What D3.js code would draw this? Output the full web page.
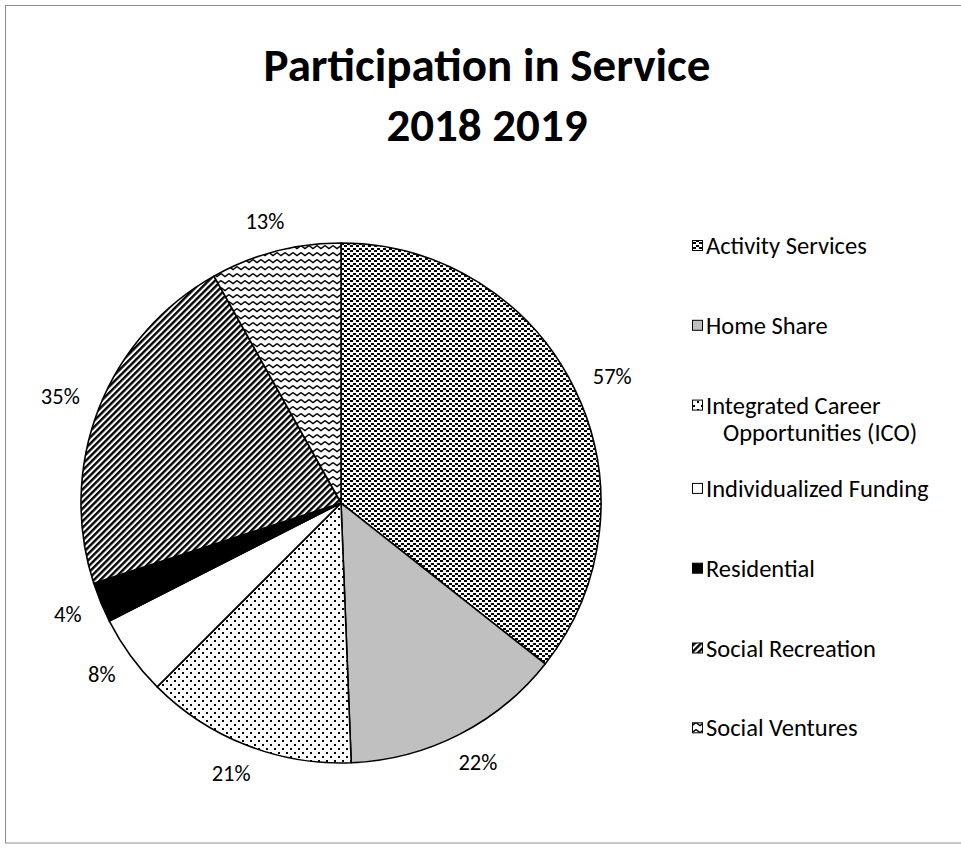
<!DOCTYPE html>
<html><head><meta charset="utf-8">
<script src="https://cdn.jsdelivr.net/npm/d3@7/dist/d3.min.js"></script>
<style>html,body{margin:0;padding:0;background:#fff;} svg{display:block;}</style>
</head><body>
<script>
const categories = ["Activity Services","Home Share","Integrated Career Opportunities (ICO)","Individualized Funding","Residential","Social Recreation","Social Ventures"];
const legendLines = [["Activity Services"],["Home Share"],["Integrated Career","Opportunities (ICO)"],["Individualized Funding"],["Residential"],["Social Recreation"],["Social Ventures"]];
const values = [57,22,21,8,4,35,13];
const valueLabels = ["57%","22%","21%","8%","4%","35%","13%"];
const titleLines = ["Participation in Service","2018 2019"];

const W=961,H=848;
const FONT="Carlito, Lato, 'Liberation Sans', sans-serif";
const svg=d3.select("body").append("svg").attr("width",W).attr("height",H);
const defs=svg.append("defs");

function pat(id,w,h,build,transform){
  const p=defs.append("pattern").attr("id",id).attr("patternUnits","userSpaceOnUse").attr("width",w).attr("height",h);
  if(transform) p.attr("patternTransform",transform);
  p.append("rect").attr("width",w).attr("height",h).attr("fill","#fff");
  build(p);
}
pat("pAct",6,5,p=>{
  p.append("rect").attr("x",0).attr("y",0).attr("width",3).attr("height",2).attr("fill","#000");
  p.append("rect").attr("x",3).attr("y",2).attr("width",3).attr("height",2).attr("fill","#000");
});
pat("pICO",8,8,p=>{
  p.append("rect").attr("x",1).attr("y",1).attr("width",2).attr("height",2).attr("fill","#000");
  p.append("rect").attr("x",5).attr("y",5).attr("width",2).attr("height",2).attr("fill","#000");
});
pat("pRec",4.5,4.5,p=>{
  p.append("rect").attr("x",0).attr("y",0).attr("width",2.4).attr("height",4.5).attr("fill","#000");
},"rotate(45)");
pat("pVen",8,7,p=>{
  p.append("path").attr("d","M0,1.5 L4,4.5 L8,1.5").attr("fill","none").attr("stroke","#000").attr("stroke-width",1.4);
});
const fills=["url(#pAct)","#c0c0c0","url(#pICO)","#ffffff","#000000","url(#pRec)","url(#pVen)"];

// frame
svg.append("rect").attr("x",5.5).attr("y",5.5).attr("width",970).attr("height",837.5)
  .attr("fill","none").attr("stroke","#8c8c8c").attr("stroke-width",1);

// title
const title=svg.append("g");
titleLines.forEach((t,i)=>{
  title.append("text").attr("x",487).attr("y",81+i*60).attr("text-anchor","middle")
    .attr("font-family",FONT).attr("font-weight","bold").attr("font-size",47)
    .attr("fill","#000").text(t);
});

// pie
const cx=341, cy=503, R=260;
const pie=d3.pie().sort(null).value(d=>d);
const arcs=pie(values);
const arc=d3.arc().innerRadius(0).outerRadius(R);
const g=svg.append("g").attr("transform",`translate(${cx},${cy})`);
g.selectAll("path.slice").data(arcs).join("path").attr("class","slice")
  .attr("d",arc).attr("fill",(d,i)=>fills[i]).attr("stroke","#000").attr("stroke-width",1.6)
  .attr("stroke-linejoin","round");

// labels
const lg=g.append("g");
arcs.forEach((a,i)=>{
  const m=(a.startAngle+a.endAngle)/2;
  const t=lg.append("text").attr("font-family",FONT).attr("font-size",22.5).attr("fill","#000")
    .attr("text-anchor","middle").attr("dominant-baseline","central").text(valueLabels[i]);
  const w=t.node().getComputedTextLength();
  const r0=R+22;
  const x=Math.sin(m)*r0+Math.sin(m)*w/2;
  const y=-Math.cos(m)*r0-Math.cos(m)*9;
  t.attr("x",x).attr("y",y);
});

// legend
const leg=svg.append("g");
let extra=0;
legendLines.forEach((lines,i)=>{
  const y=246+i*79.8+extra;
  leg.append("rect").attr("x",692.5).attr("y",y-5.5).attr("width",10).attr("height",10)
    .attr("fill",fills[i]).attr("stroke","#000").attr("stroke-width",1);
  lines.forEach((ln,j)=>{
    leg.append("text").attr("x",j===0?706:723).attr("y",y+j*27).attr("dominant-baseline","central")
      .attr("font-family",FONT).attr("font-size",24.5).attr("fill","#000").text(ln);
  });
  if(lines.length>1) extra+=3.5;
});
</script>
</body></html>
